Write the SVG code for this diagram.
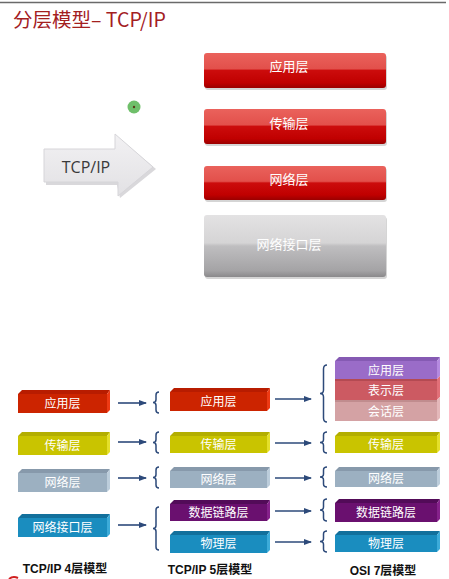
<svg xmlns="http://www.w3.org/2000/svg" width="449" height="579" viewBox="0 0 449 579">
<style>
.cn{font-family:"Noto Sans CJK SC","Noto Sans",sans-serif;}
.bt{font-family:"Noto Sans CJK SC",sans-serif;font-size:12px;fill:#ffffff;text-anchor:middle;}
.tb{font-family:"Noto Sans CJK SC",sans-serif;font-size:13px;fill:#ffffff;text-anchor:middle;}
.lab{font-family:"Liberation Sans","Noto Sans CJK SC",sans-serif;font-size:12px;font-weight:bold;fill:#111;text-anchor:middle;}
.arr{stroke:#2d4a7a;stroke-width:1.6;fill:none;}
.br{stroke:#2d4a7a;stroke-width:1.5;fill:none;}
.rF{fill:#cc2400}.rT{fill:#b81c00}.rS{fill:#ee3a14}
.yF{fill:#c9c400}.yT{fill:#b3ae00}.yS{fill:#e4df2a}
.gF{fill:#9cb0c1}.gT{fill:#8799ab}.gS{fill:#bccddb}
.bF{fill:#1a8dbf}.bT{fill:#12709c}.bS{fill:#3cabd9}
.pF{fill:#6a106f}.pT{fill:#520b58}.pS{fill:#86218b}
.lF{fill:#9a6cc8}.lT{fill:#855ab3}.lS{fill:#b58ae0}
.sF{fill:#cc5a62}.sT{fill:#b44a52}.sS{fill:#e27078}
.hF{fill:#d4a2a4}.hT{fill:#c08c8e}.hS{fill:#e4b8ba}
</style>
<defs>
<linearGradient id="redbar" x1="0" y1="0" x2="0" y2="1">
<stop offset="0" stop-color="#ea625c"/>
<stop offset="0.45" stop-color="#e2504b"/>
<stop offset="0.5" stop-color="#cc0c0c"/>
<stop offset="0.85" stop-color="#c00000"/>
<stop offset="1" stop-color="#9a0000"/>
</linearGradient>
<linearGradient id="graybar" x1="0" y1="0" x2="0" y2="1">
<stop offset="0" stop-color="#e3e2e3"/>
<stop offset="0.45" stop-color="#d5d4d5"/>
<stop offset="0.5" stop-color="#bfbec0"/>
<stop offset="0.9" stop-color="#a4a3a5"/>
<stop offset="1" stop-color="#8a898b"/>
</linearGradient>
<linearGradient id="arrowfill" x1="0" y1="0" x2="0" y2="1">
<stop offset="0" stop-color="#f2f1f3"/>
<stop offset="1" stop-color="#e2e1e4"/>
</linearGradient>
<marker id="ah" markerWidth="8" markerHeight="6" refX="7" refY="3" orient="auto" markerUnits="userSpaceOnUse">
<path d="M0,0 L8,3 L0,6 z" fill="#2d4a7a"/>
</marker>
</defs>

<rect x="0" y="0" width="449" height="579" fill="#ffffff"/>
<line x1="0" y1="2.5" x2="446" y2="2.5" stroke="#6a6a6a" stroke-width="1.5"/>
<text x="13" y="27" class="cn" font-size="19.5" fill="#a3201f">分层模型– TCP/IP</text>

<g id="dot">
<circle cx="134" cy="107" r="6.5" fill="#6fbf6a"/>
<circle cx="134" cy="107" r="1.2" fill="#5a3a1a"/>
</g>

<g id="tcpip-arrow">
<polygon points="46,152 117,152 117,137 156,169 120,198 117,185 46,185" fill="#c9c8cc" opacity="0.7"/>
<polygon points="44,149 115,149 115,134 153,167 118,196 118,182 44,182" fill="url(#arrowfill)" stroke="#d6d5d9" stroke-width="1"/>
<text x="86" y="173" font-family="'Open Sans','Noto Sans',sans-serif" font-size="16" fill="#3a3a3a" text-anchor="middle">TCP/IP</text>
</g>

<g id="bar-app">
<rect x="205" y="55" width="182" height="35" rx="3" fill="#888" opacity="0.35"/>
<rect x="204" y="53" width="182" height="35" rx="3" fill="url(#redbar)"/>
<text x="289" y="71" class="tb">应用层</text>
</g>
<g id="bar-trans">
<rect x="205" y="111" width="182" height="35" rx="3" fill="#888" opacity="0.35"/>
<rect x="204" y="109" width="182" height="35" rx="3" fill="url(#redbar)"/>
<text x="289" y="128" class="tb">传输层</text>
</g>
<g id="bar-net">
<rect x="205" y="168" width="182" height="34" rx="3" fill="#888" opacity="0.35"/>
<rect x="204" y="166" width="182" height="34" rx="3" fill="url(#redbar)"/>
<text x="289" y="184" class="tb">网络层</text>
</g>
<g id="bar-iface">
<rect x="205" y="217" width="182" height="62" rx="3" fill="#888" opacity="0.35"/>
<rect x="204" y="215" width="182" height="62" rx="3" fill="url(#graybar)"/>
<text x="289" y="249" class="tb" fill="#f6f6f6">网络接口层</text>
</g>

<!-- TCP/IP 4 layer -->
<g id="m4-app">
<polygon class="rT" points="18,394 22,390 110,390 107,394"/>
<rect class="rF" x="18" y="394" width="89" height="19"/>
<polygon class="rS" points="107,394 110,390 110,410 107,413"/>
<text x="62.5" y="408" class="bt">应用层</text>
</g>
<g id="m4-trans">
<polygon class="yT" points="18,436 22,432 110,432 107,436"/>
<rect class="yF" x="18" y="436" width="89" height="19"/>
<polygon class="yS" points="107,436 110,432 110,452 107,455"/>
<text x="62.5" y="450" class="bt">传输层</text>
</g>
<g id="m4-net">
<polygon class="gT" points="18,473 22,469 110,469 107,473"/>
<rect class="gF" x="18" y="473" width="89" height="19"/>
<polygon class="gS" points="107,473 110,469 110,489 107,492"/>
<text x="62.5" y="487" class="bt">网络层</text>
</g>
<g id="m4-iface">
<polygon class="bT" points="18,518 22,514 110,514 107,518"/>
<rect class="bF" x="18" y="518" width="89" height="19"/>
<polygon class="bS" points="107,518 110,514 110,534 107,537"/>
<text x="62.5" y="532" class="bt">网络接口层</text>
</g>

<!-- TCP/IP 5 layer -->
<g id="m5-app">
<polygon class="rT" points="170,392 174,388 270,388 267,392"/>
<rect class="rF" x="170" y="392" width="97" height="19"/>
<polygon class="rS" points="267,392 270,388 270,408 267,411"/>
<text x="218.5" y="406" class="bt">应用层</text>
</g>
<g id="m5-trans">
<polygon class="yT" points="170,436 174,432 270,432 267,436"/>
<rect class="yF" x="170" y="436" width="97" height="17"/>
<polygon class="yS" points="267,436 270,432 270,450 267,453"/>
<text x="218.5" y="449" class="bt">传输层</text>
</g>
<g id="m5-net">
<polygon class="gT" points="170,471 174,467 270,467 267,471"/>
<rect class="gF" x="170" y="471" width="97" height="17"/>
<polygon class="gS" points="267,471 270,467 270,485 267,488"/>
<text x="218.5" y="484" class="bt">网络层</text>
</g>
<g id="m5-dl">
<polygon class="pT" points="170,504 174,500 270,500 267,504"/>
<rect class="pF" x="170" y="504" width="97" height="17"/>
<polygon class="pS" points="267,504 270,500 270,518 267,521"/>
<text x="218.5" y="517" class="bt">数据链路层</text>
</g>
<g id="m5-phy">
<polygon class="bT" points="170,535 174,531 270,531 267,535"/>
<rect class="bF" x="170" y="535" width="97" height="18"/>
<polygon class="bS" points="267,535 270,531 270,550 267,553"/>
<text x="218.5" y="548" class="bt">物理层</text>
</g>

<!-- OSI 7 layer -->
<g id="m7-app">
<polygon class="lT" points="335,361 339,357 440,357 437,361"/>
<rect class="lF" x="335" y="361" width="102" height="18"/>
<polygon class="lS" points="437,361 440,357 440,376 437,379"/>
<text x="386" y="375" class="bt">应用层</text>
</g>
<g id="m7-pres">
<rect class="sT" x="335" y="379" width="102" height="2"/>
<rect class="sF" x="335" y="381" width="102" height="19"/>
<polygon class="sS" points="437,379 440,376 440,397 437,400"/>
<text x="386" y="395" class="bt">表示层</text>
</g>
<g id="m7-sess">
<rect class="hT" x="335" y="400" width="102" height="2"/>
<rect class="hF" x="335" y="402" width="102" height="19"/>
<polygon class="hS" points="437,400 440,397 440,418 437,421"/>
<text x="386" y="416" class="bt">会话层</text>
</g>
<g id="m7-trans">
<polygon class="yT" points="335,436 339,432 440,432 437,436"/>
<rect class="yF" x="335" y="436" width="102" height="17"/>
<polygon class="yS" points="437,436 440,432 440,450 437,453"/>
<text x="386" y="449" class="bt">传输层</text>
</g>
<g id="m7-net">
<polygon class="gT" points="335,471 339,467 440,467 437,471"/>
<rect class="gF" x="335" y="471" width="102" height="16"/>
<polygon class="gS" points="437,471 440,467 440,484 437,487"/>
<text x="386" y="483" class="bt">网络层</text>
</g>
<g id="m7-dl">
<polygon class="pT" points="335,503 339,499 440,499 437,503"/>
<rect class="pF" x="335" y="503" width="102" height="19"/>
<polygon class="pS" points="437,503 440,499 440,519 437,522"/>
<text x="386" y="517" class="bt">数据链路层</text>
</g>
<g id="m7-phy">
<polygon class="bT" points="335,535 339,531 440,531 437,535"/>
<rect class="bF" x="335" y="535" width="102" height="17"/>
<polygon class="bS" points="437,535 440,531 440,549 437,552"/>
<text x="386" y="548" class="bt">物理层</text>
</g>

<g id="connectors">
<line class="arr" x1="118" y1="403" x2="146" y2="403" marker-end="url(#ah)"/>
<line class="arr" x1="118" y1="442" x2="146" y2="442" marker-end="url(#ah)"/>
<line class="arr" x1="118" y1="478" x2="146" y2="478" marker-end="url(#ah)"/>
<line class="arr" x1="118" y1="525" x2="146" y2="525" marker-end="url(#ah)"/>
<path class="br" d="M159,392 Q156,392 156,395 L156,399.5 Q156,402.5 153,402.5 Q156,402.5 156,405.5 L156,410 Q156,413 159,413"/>
<path class="br" d="M159,432 Q156,432 156,435 L156,439.5 Q156,442.5 153,442.5 Q156,442.5 156,445.5 L156,450 Q156,453 159,453"/>
<path class="br" d="M159,467 Q156,467 156,470 L156,474.5 Q156,477.5 153,477.5 Q156,477.5 156,480.5 L156,485 Q156,488 159,488"/>
<path class="br" d="M159,507 Q156,507 156,510 L156,525.5 Q156,528.5 153,528.5 Q156,528.5 156,531.5 L156,547 Q156,550 159,550"/>

<line class="arr" x1="275" y1="399" x2="311" y2="399" marker-end="url(#ah)"/>
<line class="arr" x1="275" y1="443" x2="311" y2="443" marker-end="url(#ah)"/>
<line class="arr" x1="275" y1="478" x2="311" y2="478" marker-end="url(#ah)"/>
<line class="arr" x1="275" y1="511" x2="311" y2="511" marker-end="url(#ah)"/>
<line class="arr" x1="275" y1="542" x2="311" y2="542" marker-end="url(#ah)"/>
<path class="br" d="M327,365 Q323.5,365 323.5,369 L323.5,390 Q323.5,393.5 320,393.5 Q323.5,393.5 323.5,397 L323.5,418 Q323.5,422 327,422"/>
<path class="br" d="M327,432 Q323.5,432 323.5,435 L323.5,439.5 Q323.5,442.5 320,442.5 Q323.5,442.5 323.5,445.5 L323.5,450 Q323.5,453 327,453"/>
<path class="br" d="M327,467 Q323.5,467 323.5,470 L323.5,474 Q323.5,477 320,477 Q323.5,477 323.5,480 L323.5,484 Q323.5,487 327,487"/>
<path class="br" d="M327,499 Q323.5,499 323.5,502 L323.5,507 Q323.5,510 320,510 Q323.5,510 323.5,513 L323.5,518 Q323.5,521 327,521"/>
<path class="br" d="M327,531 Q323.5,531 323.5,534 L323.5,538.5 Q323.5,541.5 320,541.5 Q323.5,541.5 323.5,544.5 L323.5,549 Q323.5,552 327,552"/>
</g>

<text x="65" y="573" class="lab">TCP/IP 4层模型</text>
<text x="210" y="574" class="lab">TCP/IP 5层模型</text>
<text x="383" y="575" class="lab">OSI 7层模型</text>
<path d="M9,579 Q13,575.5 18,578" stroke="#d02020" stroke-width="2" fill="none"/>
</svg>
